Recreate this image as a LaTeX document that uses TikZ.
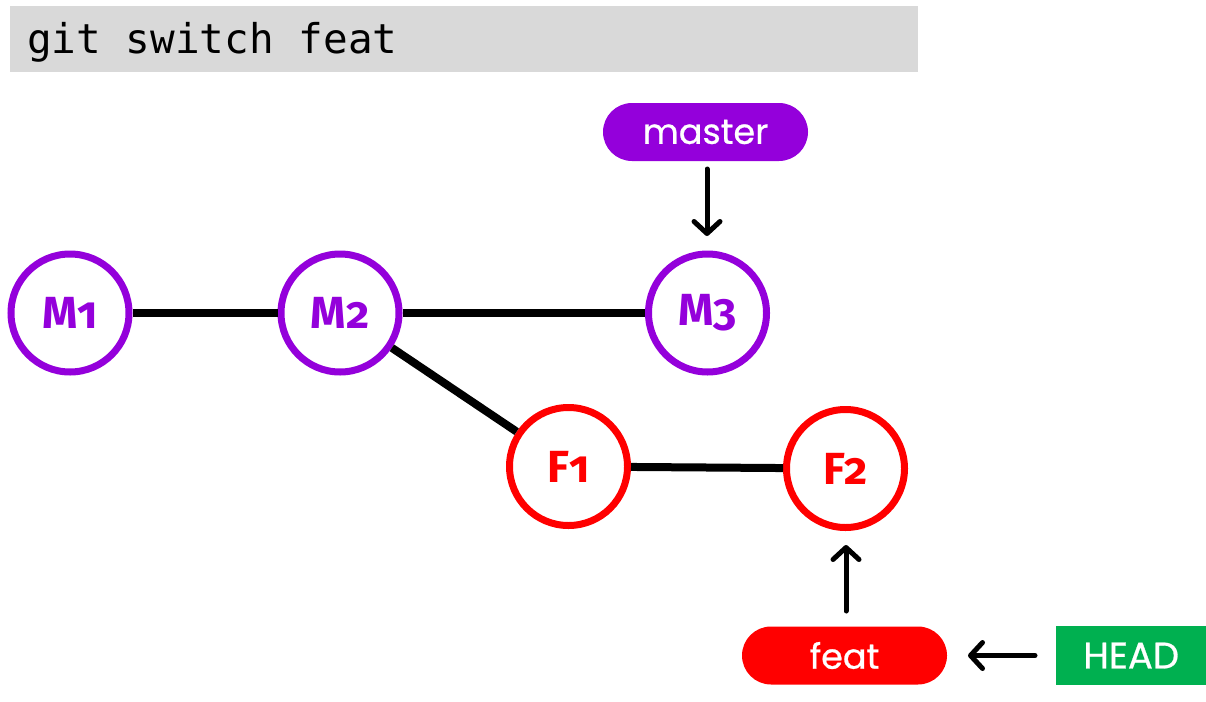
\documentclass[tikz,border=0pt]{standalone}
\usepackage{fontspec}
\setmainfont{Poppins}
\newfontfamily\pillfont[FakeBold=0.7]{Poppins}
\newfontfamily\codefont{DejaVu Sans Mono}
\newfontfamily\lblfont[Numbers=OldStyle]{Fira Sans}
\usetikzlibrary{arrows.meta}
\definecolor{codebg}{HTML}{D9D9D9}
\definecolor{mpurple}{HTML}{9400DB}
\definecolor{fred}{HTML}{FF0000}
\definecolor{hgreen}{HTML}{00B050}
\tikzset{
  commit/.style={circle, draw=#1, line width=7pt, fill=white, minimum size=118pt, inner sep=0pt,
    text=#1, font=\lblfont\bfseries\fontsize{45}{45}\selectfont},
  link/.style={line width=8pt, draw=black},
  pill/.style={rectangle, rounded corners=29pt, fill=#1, minimum width=205pt, minimum height=58pt,
    inner sep=0pt, text=white, font=\pillfont\fontsize{35}{35}\selectfont},
  ptr/.style={line width=5pt, -{Straight Barb[length=12pt,width=26pt,line cap=round,line join=round]}, line cap=round},
}
\begin{document}
\begin{tikzpicture}[x=1pt,y=-1pt]
\useasboundingbox (0,0) rectangle (1206,701);
\fill[codebg] (10,6) rectangle (918,72);
\node[anchor=base west, inner sep=0pt, font=\codefont\fontsize{41}{41}\selectfont] (cmd) at (27,54) {git switch feat};
\node[commit=mpurple] (m1) at (70,313) {M1};
\node[commit=mpurple] (m2) at (340,313) {M2};
\node[commit=mpurple] (m3) at (707.5,313) {M3};
\node[commit=fred] (f1) at (568.5,466.5) {F1};
\node[commit=fred] (f2) at (845.5,468.5) {F2};
\draw[link] (m1) -- (m2);
\draw[link] (m2) -- (m3);
\draw[link] (m2) -- (f1);
\draw[link] (f1) -- (f2);
\node[pill=mpurple] (master) at (705.5,132) {master};
\node[pill=fred] (feat) at (844.5,655.5) {feat};
\node[rectangle, fill=hgreen, minimum width=150pt, minimum height=59pt, inner sep=0pt, text=white, font=\pillfont\fontsize{37}{37}\selectfont, anchor=west] (head) at (1056,655.5) {HEAD};
\coordinate (mtail) at (707,169);
\coordinate (mtip) at (707,236);
\coordinate (ftail) at (846,611);
\coordinate (ftip) at (846,545);
\coordinate (htail) at (1035,655.5);
\coordinate (htip) at (968,655.5);
\draw[ptr] (mtail) -- (mtip);
\draw[ptr] (ftail) -- (ftip);
\draw[ptr] (htail) -- (htip);
\end{tikzpicture}
\end{document}
